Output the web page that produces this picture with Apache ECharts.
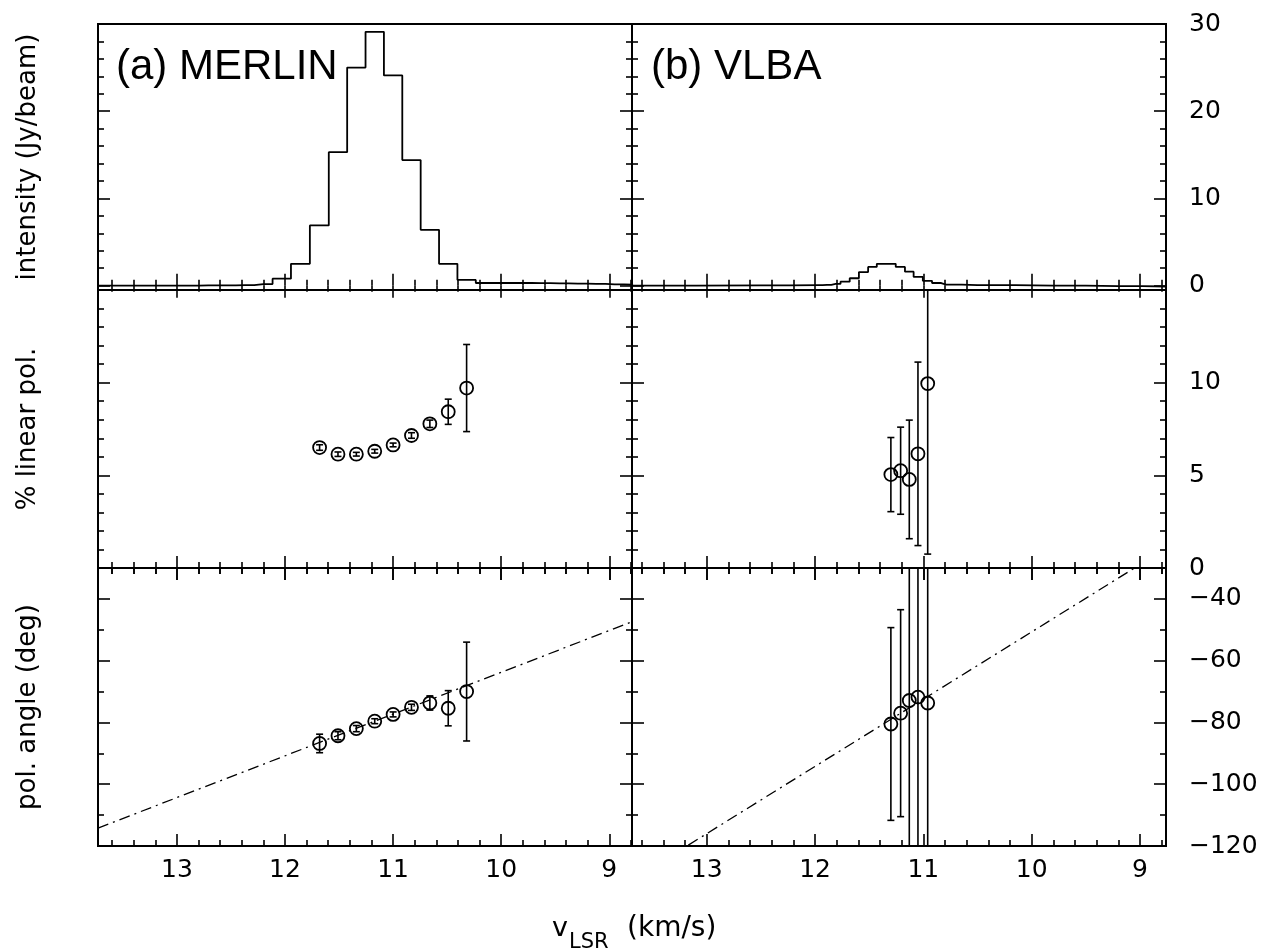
<!DOCTYPE html>
<html lang="en">
<head>
<meta charset="utf-8" />
<title>MERLIN / VLBA polarization spectra</title>
<script src="https://cdn.jsdelivr.net/npm/echarts@6.0.0/dist/echarts.min.js"></script>
<style>body{margin:0;background:#fff;}</style>
</head>
<body>
<div id="main" style="width:1268px;height:952px;"></div>
<script type="text/javascript">
// velocity ranges of the two columns (km/s), axis drawn reversed
var velRangeA = [8.79, 13.73];
var velRangeB = [8.76, 13.69];
var velTickLabels = [13, 12, 11, 10, 9];

// y ranges and labelled ticks per row
var intRange = [-0.5, 30];
var intTickLabels = [0, 10, 20, 30];
var polRange = [0, 15];
var polTickLabels = [0, 5, 10];
var angRange = [-120, -30];
var angTickLabels = [-40, -60, -80, -100, -120];

// (a) MERLIN spectrum, bin centres and intensity (Jy/beam)
var merlinVel = [13.74, 13.57, 13.39, 13.22, 13.05, 12.88, 12.71, 12.54, 12.37, 12.20, 12.03, 11.86, 11.68, 11.51, 11.34,
                 11.17, 11.00, 10.83, 10.66, 10.49, 10.32, 10.15, 9.97, 9.80, 9.63, 9.46, 9.29, 9.12, 8.95, 8.78];
var merlinInt = [0.0, 0.0, 0.0, 0.0, 0.0, 0.0, 0.02, 0.03, 0.05, 0.18, 0.8, 2.5, 6.9, 15.3, 25.0,
                 29.1, 24.1, 14.4, 6.4, 2.5, 0.65, 0.3, 0.3, 0.3, 0.28, 0.25, 0.22, 0.2, 0.15, 0.1];

// (b) VLBA spectrum
var vlbaVel = [13.70, 12.50, 11.97, 11.89, 11.81, 11.72, 11.64, 11.55, 11.47, 11.39, 11.30, 11.21, 11.13,
               11.05, 10.96, 10.88, 10.79, 10.50, 9.80, 9.20, 8.76];
var vlbaInt = [0.0, 0.02, 0.05, 0.08, 0.2, 0.45, 0.85, 1.55, 2.15, 2.5, 2.5, 2.15, 1.6,
               1.0, 0.55, 0.3, 0.12, 0.05, 0.0, -0.05, -0.1];

// MERLIN polarization
var merlinPolVel = [11.68, 11.51, 11.34, 11.17, 11.00, 10.83, 10.66, 10.49, 10.32];
var merlinPol = [6.50, 6.14, 6.14, 6.30, 6.64, 7.15, 7.78, 8.43, 9.71];
var merlinPolErr = [0.15, 0.12, 0.10, 0.10, 0.10, 0.15, 0.20, 0.68, 2.35];
var merlinAng = [-86.8, -84.3, -82.0, -79.6, -77.4, -75.1, -73.7, -75.4, -70.0];
var merlinAngErr = [3.0, 1.3, 1.0, 0.8, 0.8, 1.0, 2.3, 5.7, 16.0];
var merlinFit = [[13.73, -114.2], [8.79, -47.4]];

// VLBA polarization
var vlbaPolVel = [11.30, 11.21, 11.13, 11.05, 10.96];
var vlbaPol = [5.04, 5.25, 4.78, 6.16, 9.95];
var vlbaPolErr = [2.0, 2.35, 3.2, 4.95, 9.2];
var vlbaAng = [-80.5, -77.0, -72.9, -71.8, -73.7];
var vlbaAngErr = [31.2, 33.5, 100, 100, 100];
var vlbaFit = [[13.17, -119.7], [9.05, -30.0]];

var FONT = '"DejaVu Sans", sans-serif';
var tickStyle = {color: '#000', width: 1.6};

var myChart = echarts.init(document.getElementById('main'));

function fmtNum(v) {
  return v < 0 ? '\u2212' + (-v) : String(v);
}

// panel geometry: column lefts, row tops/heights
var colLeft = [98, 632];
var colWidth = 534;
var rowTop = [24, 290, 568];
var rowHeight = [266, 278, 278];

var grids = [];
for (var r = 0; r < 3; r++) {
  for (var c = 0; c < 2; c++) {
    grids.push({
      left: colLeft[c], top: rowTop[r], width: colWidth, height: rowHeight[r],
      show: true, borderColor: '#000', borderWidth: 2, backgroundColor: 'transparent'
    });
  }
}

var xAxes = [], yAxes = [];
var rowRanges = [intRange, polRange, angRange];
var rowLabels = [intTickLabels, polTickLabels, angTickLabels];
var rowInterval = [10, 5, 20];
var rowMinor = [5, 5, 2];

// each grid gets a bottom + top x axis and a left + right y axis
for (var r2 = 0; r2 < 3; r2++) {
  for (var c2 = 0; c2 < 2; c2++) {
    var gi = r2 * 2 + c2;
    var vr = c2 === 0 ? velRangeA : velRangeB;
    ['bottom', 'top'].forEach(function (pos) {
      xAxes.push({
        type: 'value', gridIndex: gi, position: pos,
        min: vr[0], max: vr[1], inverse: true,
        minInterval: 1, maxInterval: 1,
        axisLine: {show: false}, splitLine: {show: false},
        axisTick: {inside: true, length: 12, lineStyle: tickStyle},
        minorTick: {show: true, splitNumber: 5, length: 6, lineStyle: tickStyle},
        axisLabel: {
          show: pos === 'bottom' && r2 === 2,
          margin: 12, color: '#000', fontSize: 25, fontFamily: FONT,
          formatter: function (v) {
            return velTickLabels.indexOf(Math.round(v * 1000) / 1000) >= 0 ? fmtNum(v) : '';
          }
        }
      });
    });
    var rr = rowRanges[r2], labs = rowLabels[r2];
    ['left', 'right'].forEach(function (pos) {
      yAxes.push({
        type: 'value', gridIndex: gi, position: pos,
        min: rr[0], max: rr[1],
        minInterval: rowInterval[r2], maxInterval: rowInterval[r2],
        axisLine: {show: false}, splitLine: {show: false},
        axisTick: {inside: true, length: 12, lineStyle: tickStyle},
        minorTick: {show: true, splitNumber: rowMinor[r2], length: 6, lineStyle: tickStyle},
        axisLabel: {
          show: pos === 'right' && c2 === 1,
          margin: 23, color: '#000', fontSize: 25, fontFamily: FONT,
          formatter: (function (labs) {
            return function (v) {
              return labs.indexOf(Math.round(v * 1000) / 1000) >= 0 ? fmtNum(v) : '';
            };
          })(labs)
        }
      });
    });
  }
}

// bottom x axis of grid g is 2*g, left y axis is 2*g
function errorBars(g, vel, val, err) {
  return {
    type: 'custom', xAxisIndex: 2 * g, yAxisIndex: 2 * g, z: 3,
    data: vel.map(function (v, i) { return [v, val[i] - err[i], val[i] + err[i]]; }),
    renderItem: function (params, api) {
      var cs = params.coordSys;
      var top = cs.y, bot = cs.y + cs.height;
      var x = api.coord([api.value(0), api.value(1)])[0];
      var lo = api.coord([api.value(0), api.value(1)])[1];
      var hi = api.coord([api.value(0), api.value(2)])[1];
      var st = {stroke: '#000', lineWidth: 1.6};
      var kids = [{type: 'line', shape: {x1: x, y1: Math.min(lo, bot), x2: x, y2: Math.max(hi, top)}, style: st}];
      if (lo <= bot) kids.push({type: 'line', shape: {x1: x - 3.5, y1: lo, x2: x + 3.5, y2: lo}, style: st});
      if (hi >= top) kids.push({type: 'line', shape: {x1: x - 3.5, y1: hi, x2: x + 3.5, y2: hi}, style: st});
      return {type: 'group', children: kids};
    }
  };
}

function points(g, vel, val) {
  return {
    type: 'scatter', xAxisIndex: 2 * g, yAxisIndex: 2 * g, z: 4,
    symbol: 'circle', symbolSize: 13,
    itemStyle: {color: 'rgba(0,0,0,0)', borderColor: '#000', borderWidth: 1.8, opacity: 1},
    data: vel.map(function (v, i) { return [v, val[i]]; })
  };
}

function spectrum(g, vel, val) {
  return {
    type: 'line', xAxisIndex: 2 * g, yAxisIndex: 2 * g, step: 'middle',
    showSymbol: false, symbol: 'none',
    lineStyle: {color: '#000', width: 1.8},
    data: vel.map(function (v, i) { return [v, val[i]]; })
  };
}

function fitLine(g, pts) {
  return {
    type: 'line', xAxisIndex: 2 * g, yAxisIndex: 2 * g, symbol: 'none',
    lineStyle: {color: '#000', width: 1.3, type: [11, 5, 2, 5]},
    data: pts
  };
}

var titleFont = '42px "Liberation Sans", Arial, sans-serif';
var nameFont = '26px ' + FONT;

option = {
  animation: false,
  backgroundColor: '#fff',
  grid: grids,
  xAxis: xAxes,
  yAxis: yAxes,
  graphic: [
    {type: 'text', x: 116, y: 67, style: {text: '(a) MERLIN', font: titleFont, fill: '#000', verticalAlign: 'middle'}},
    {type: 'text', x: 651, y: 67, style: {text: '(b) VLBA', font: titleFont, fill: '#000', verticalAlign: 'middle'}},
    {type: 'text', x: 28, y: 157, rotation: Math.PI / 2,
      style: {text: 'intensity (Jy/beam)', font: nameFont, fill: '#000', align: 'center', verticalAlign: 'middle'}},
    {type: 'text', x: 28, y: 429, rotation: Math.PI / 2,
      style: {text: '% linear pol.', font: nameFont, fill: '#000', align: 'center', verticalAlign: 'middle'}},
    {type: 'text', x: 28, y: 707, rotation: Math.PI / 2,
      style: {text: 'pol. angle (deg)', font: nameFont, fill: '#000', align: 'center', verticalAlign: 'middle'}},
    {type: 'text', x: 552, y: 929, style: {text: 'v', font: '27px ' + FONT, fill: '#000', verticalAlign: 'middle'}},
    {type: 'text', x: 569, y: 943, style: {text: 'LSR', font: '21px ' + FONT, fill: '#000', verticalAlign: 'middle'}},
    {type: 'text', x: 627, y: 929, style: {text: '(km/s)', font: '28px ' + FONT, fill: '#000', verticalAlign: 'middle'}}
  ],
  series: [
    spectrum(0, merlinVel, merlinInt),
    spectrum(1, vlbaVel, vlbaInt),
    errorBars(2, merlinPolVel, merlinPol, merlinPolErr),
    points(2, merlinPolVel, merlinPol),
    errorBars(3, vlbaPolVel, vlbaPol, vlbaPolErr),
    points(3, vlbaPolVel, vlbaPol),
    fitLine(4, merlinFit),
    errorBars(4, merlinPolVel, merlinAng, merlinAngErr),
    points(4, merlinPolVel, merlinAng),
    fitLine(5, vlbaFit),
    errorBars(5, vlbaPolVel, vlbaAng, vlbaAngErr),
    points(5, vlbaPolVel, vlbaAng)
  ]
};
myChart.setOption(option);
</script>
</body>
</html>
